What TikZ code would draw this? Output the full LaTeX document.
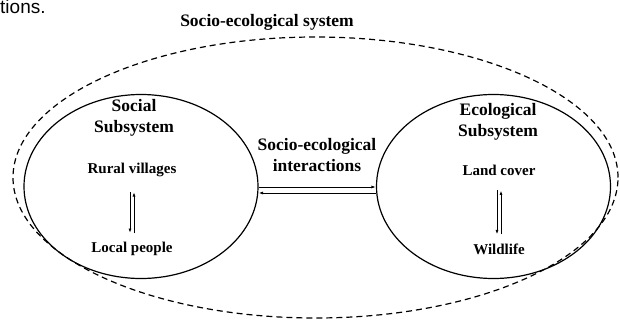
\documentclass[tikz,border=0pt]{standalone}
\usepackage{fontspec}
\setmainfont{Liberation Serif}
\newfontfamily\fragfont{Liberation Sans}
\usetikzlibrary{shapes.geometric,arrows.meta}
\begin{document}
\begin{tikzpicture}[x=1pt,y=-1pt,
  sub/.style={draw, ellipse, line width=1.2pt, minimum width=234pt, minimum height=184pt, inner sep=0pt},
  outer/.style={draw, ellipse, line width=1.2pt, dash pattern=on 6pt off 4pt, minimum width=605pt, minimum height=281pt, inner sep=0pt},
  head/.style={font=\fontsize{17.5}{21}\selectfont\bfseries, align=center, inner sep=0pt},
  item/.style={font=\fontsize{15}{18}\selectfont\bfseries, inner sep=0pt},
  arr/.style={-{Latex[length=4.5pt,width=3pt]}, line width=0.9pt},
]
\useasboundingbox (0,0) rectangle (620,321);
\clip (0,0) rectangle (620,321);
\node[font=\fragfont\fontsize{19}{19}\selectfont, anchor=base west, inner sep=0pt] (frag) at (0,13.5) {tions.};
\node[head] (title) at (267,22) {Socio-ecological system};
\node[outer] (sys) at (315.5,177.5) {};
\node[sub] (social) at (141,186.5) {};
\node[sub] (eco) at (493.5,186.5) {};
\node[head] (sh) at (134,118) {Social\\Subsystem};
\node[head] (eh) at (498,122) {Ecological\\Subsystem};
\node[head] (mid) at (317,155) {Socio-ecological\\interactions};
\node[item] (rv) at (132,170) {Rural villages};
\node[item] (lp) at (132,249) {Local people};
\node[item] (lc) at (499,170) {Land cover};
\node[item] (wl) at (499,249) {Wildlife};
\draw[arr, shorten <=15pt, shorten >=9pt] ([xshift=-2pt]rv.south) -- ([xshift=-2pt]lp.north);
\draw[arr, shorten >=15pt, shorten <=9pt] ([xshift=2pt]lp.north) -- ([xshift=2pt]rv.south);
\draw[arr, shorten <=15pt, shorten >=9pt] ([xshift=-2pt]lc.south) -- ([xshift=-2pt]lc.south |- wl.north);
\draw[arr, shorten >=15pt, shorten <=9pt] ([xshift=2pt]lc.south |- wl.north) -- ([xshift=2pt]lc.south);
\draw[arr] ([yshift=-0.5pt]social.east) -- ([yshift=-0.5pt]eco.west);
\draw[arr] ([yshift=-6.5pt]eco.west) -- ([yshift=-6.5pt]social.east);
\end{tikzpicture}
\end{document}
